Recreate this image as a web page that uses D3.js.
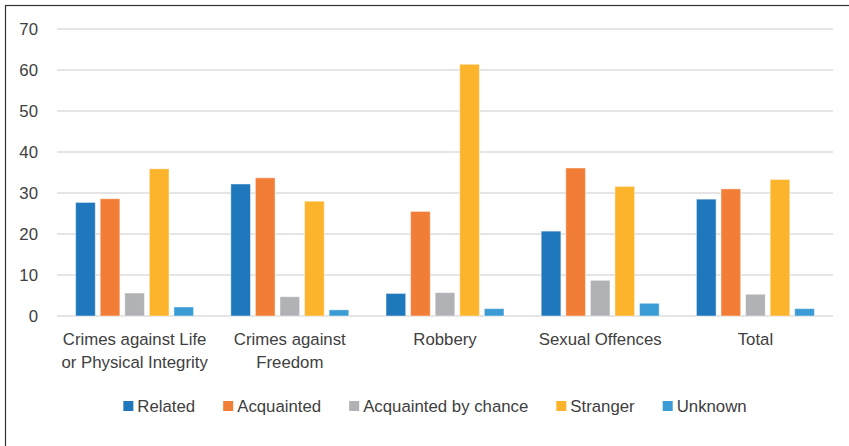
<!DOCTYPE html>
<html>
<head>
<meta charset="utf-8">
<script src="https://cdn.jsdelivr.net/npm/d3@7"></script>
<style>
  body { margin: 0; background: #fff; }
  text { font-family: "Liberation Sans", Arial, sans-serif; fill: #404040; }
</style>
</head>
<body>
<div id="chart"></div>
<script>
// data
var categories = ["Crimes against Life or Physical Integrity", "Crimes against Freedom", "Robbery", "Sexual Offences", "Total"];
var seriesNames = ["Related", "Acquainted", "Acquainted by chance", "Stranger", "Unknown"];
var related    = [27.7, 32.2, 5.5, 20.7, 28.5];
var acquainted = [28.6, 33.7, 25.5, 36.1, 31.0];
var byChance   = [5.6, 4.7, 5.7, 8.7, 5.3];
var stranger   = [35.9, 28.0, 61.4, 31.6, 33.3];
var unknown    = [2.2, 1.5, 1.8, 3.1, 1.8];
var yTicks = [0, 10, 20, 30, 40, 50, 60, 70];

var colors = ["#1f77bc", "#f27d37", "#b1b2b5", "#fbb42c", "#3b9bd4"];
var seriesValues = [related, acquainted, byChance, stranger, unknown];

var width = 849, height = 446;
var margin = {top: 29, right: 16, bottom: 130, left: 57};
var plotW = width - margin.left - margin.right,
    plotH = height - margin.top - margin.bottom;
var fontSize = "16.8px";

var svg = d3.select("#chart").append("svg")
    .attr("width", width)
    .attr("height", height);

// outer frame
svg.append("rect")
    .attr("x", 5.5).attr("y", 5.5)
    .attr("width", width + 10).attr("height", height + 10)
    .style("fill", "none")
    .style("stroke", "#333")
    .style("stroke-width", 1.2);

var g = svg.append("g")
    .attr("transform", "translate(" + margin.left + "," + margin.top + ")");

var x0 = d3.scaleBand().domain(categories).range([0, plotW])
    .paddingInner(0.24).paddingOuter(0.12);
var x1 = d3.scaleBand().domain(seriesNames).range([0, x0.bandwidth()])
    .paddingInner(0.2);
var y = d3.scaleLinear().domain([0, 70]).range([plotH, 0]);

// gridlines
g.append("g").selectAll("line")
    .data(yTicks)
  .enter().append("line")
    .attr("x1", 0).attr("x2", plotW)
    .attr("y1", function(d) { return y(d); })
    .attr("y2", function(d) { return y(d); })
    .style("stroke", "#dcdcdc")
    .style("stroke-width", 1.5);

// y axis labels
var yAxis = g.append("g")
    .call(d3.axisLeft(y).tickValues(yTicks).tickSize(0).tickPadding(19));
yAxis.select(".domain").remove();
yAxis.selectAll("text")
    .style("font-size", fontSize)
    .style("font-family", "'Liberation Sans', Arial, sans-serif")
    .attr("fill", "#404040");

// bars
var groups = g.append("g").selectAll("g")
    .data(categories)
  .enter().append("g")
    .attr("transform", function(d) { return "translate(" + x0(d) + ",0)"; });

groups.selectAll("rect")
    .data(function(d, i) {
      return seriesNames.map(function(s, j) { return {series: s, value: seriesValues[j][i], k: j}; });
    })
  .enter().append("rect")
    .attr("x", function(d) { return x1(d.series); })
    .attr("y", function(d) { return y(d.value); })
    .attr("width", x1.bandwidth())
    .attr("height", function(d) { return plotH - y(d.value); })
    .style("fill", function(d) { return colors[d.k]; })
    .style("stroke", "#fff")
    .style("stroke-opacity", 0.45)
    .style("stroke-width", 1);

// x axis labels
var xAxis = g.append("g")
    .attr("transform", "translate(0," + plotH + ")")
    .call(d3.axisBottom(x0).tickSize(0).tickPadding(17));
xAxis.select(".domain").remove();
xAxis.selectAll("text")
    .style("font-size", fontSize)
    .style("font-family", "'Liberation Sans', Arial, sans-serif")
    .attr("fill", "#404040")
    .call(wrap, 160);

function wrap(text, w) {
  text.each(function() {
    var t = d3.select(this),
        words = t.text().split(/\s+/),
        line = [], lineNo = 0,
        yy = t.attr("y"), dy = parseFloat(t.attr("dy")) || 0;
    var tspan = t.text(null).append("tspan").attr("x", 0).attr("y", yy).attr("dy", dy + "em");
    words.forEach(function(word) {
      line.push(word);
      tspan.text(line.join(" "));
      if (tspan.node().getComputedTextLength() > w && line.length > 1) {
        line.pop();
        tspan.text(line.join(" "));
        line = [word];
        tspan = t.append("tspan").attr("x", 0).attr("y", yy)
            .attr("dy", (++lineNo * 1.4 + dy) + "em").text(word);
      }
    });
  });
}

// legend
var legend = svg.append("g");
var lx = 0;
seriesNames.forEach(function(s, i) {
  var item = legend.append("g").attr("transform", "translate(" + lx + ",0)");
  item.append("rect")
      .attr("x", 0).attr("y", -5)
      .attr("width", 10).attr("height", 10)
      .style("fill", colors[i]);
  var t = item.append("text")
      .attr("x", 14).attr("y", 0).attr("dy", "0.35em")
      .style("font-size", fontSize)
      .text(s);
  lx += 14 + t.node().getComputedTextLength() + 28;
});
lx -= 28;
legend.attr("transform", "translate(" + (435 - lx / 2) + ",406)");
</script>
</body>
</html>
